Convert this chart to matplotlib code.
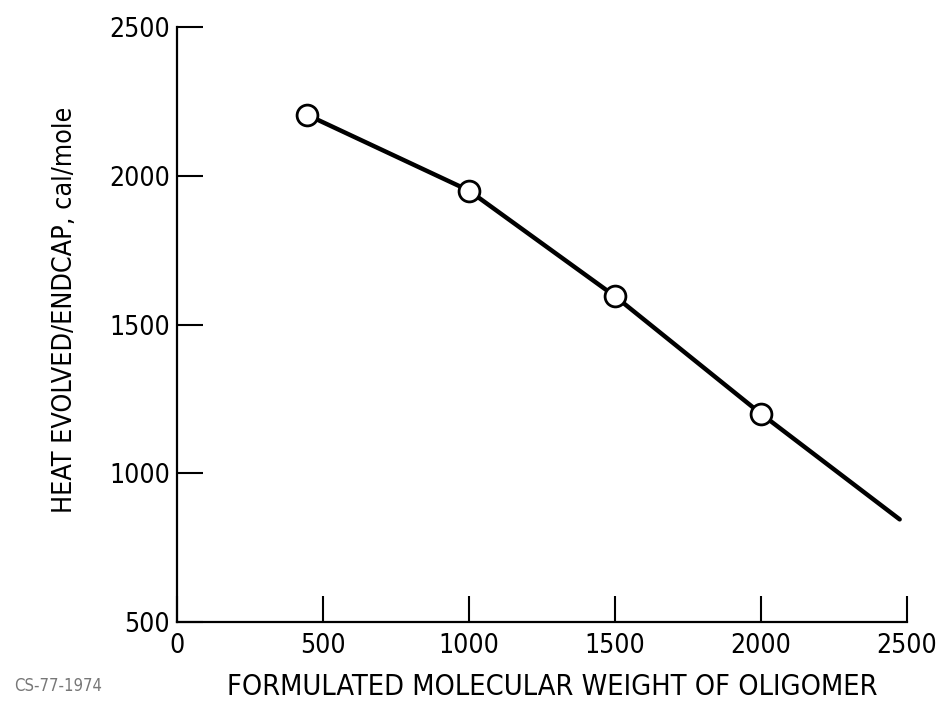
import matplotlib.pyplot as plt
from matplotlib.font_manager import findfont, FontProperties

# Heat evolved per endcap vs formulated molecular weight
mol_weight = [445, 1000, 1500, 2000]
heat = [2205, 1950, 1595, 1200]
# curve continues past the last measured point
curve_x = [445, 1000, 1500, 2000, 2475]
curve_y = [2205, 1950, 1595, 1200, 845]

xticks = [0, 500, 1000, 1500, 2000, 2500]
yticks = [500, 1000, 1500, 2000, 2500]

# use a condensed face if one is installed, otherwise shrink the text
narrow = findfont(FontProperties(family='DejaVu Sans', stretch='condensed'),
                  fallback_to_default=True)
plt.rcParams['font.family'] = ['DejaVu Sans']
if 'Condensed' in narrow:
    plt.rcParams['font.stretch'] = 'condensed'
    tick_size, xlab_size, ylab_size = 19, 20.7, 19.3
else:
    tick_size, xlab_size, ylab_size = 16, 18.3, 16.8

fig = plt.figure(figsize=(9.43, 7.07), dpi=100)
ax = fig.add_axes([0.1877, 0.1202, 0.7741, 0.8416])

ax.plot(curve_x, curve_y, color='black', linewidth=3.2, solid_capstyle='round', zorder=2)
ax.plot(mol_weight, heat, linestyle='none', marker='o', markersize=15,
        markerfacecolor='white', markeredgecolor='black', markeredgewidth=2, zorder=3)

ax.set_xlim(0, 2500)
ax.set_ylim(500, 2500)
ax.set_xticks(xticks)
ax.set_yticks(yticks)
ax.tick_params(direction='in', length=19, width=1.5, labelsize=tick_size, colors='black')
ax.tick_params(axis='x', pad=8)
ax.tick_params(axis='y', pad=5)

for side in ['top', 'right']:
    ax.spines[side].set_visible(False)
for side in ['left', 'bottom']:
    ax.spines[side].set_linewidth(1.6)

ax.set_xlabel('FORMULATED MOLECULAR WEIGHT OF OLIGOMER', fontsize=xlab_size)
ax.xaxis.set_label_coords(0.514, -0.085)
ax.set_ylabel('HEAT EVOLVED/ENDCAP, cal/mole', fontsize=ylab_size)
ax.yaxis.set_label_coords(-0.136, 0.524)

fig.text(0.015, 0.022, 'CS-77-1974', fontsize=12, color='#777777')

fig.savefig('out.png', dpi=100)
